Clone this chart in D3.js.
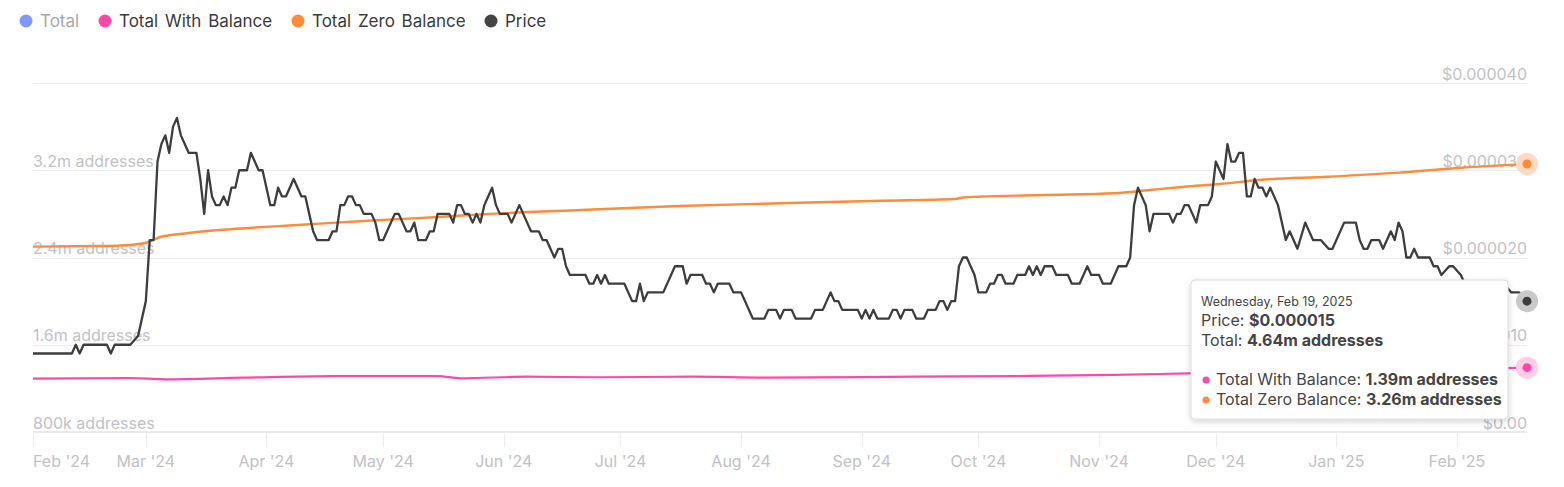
<!DOCTYPE html>
<html>
<head>
<meta charset="utf-8">
<script src="https://cdn.jsdelivr.net/npm/d3@7/dist/d3.min.js"></script>
<style>
  html, body { margin: 0; padding: 0; background: #fff; }
  svg { display: block; font-family: Inter, "Noto Sans", sans-serif; }
</style>
</head>
<body>
<svg id="chart" width="1564" height="487"></svg>
<script>
// ---------- DATA ----------
const startDate = new Date(2024, 1, 1);   // day 0
const endDate = new Date(2025, 1, 19);    // day 384

const legendNames = ["Total", "Total With Balance", "Total Zero Balance", "Price"];
const legendColors = ["#8098f9", "#ff47a8", "#ff8a3a", "#444444"];
const legendVisible = [false, true, true, true];

const addressTicks = [800000, 1600000, 2400000, 3200000, 4000000];
const addressTickLabels = ["800k addresses", "1.6m addresses", "2.4m addresses", "3.2m addresses", ""];
const priceTicks = [0, 0.00001, 0.00002, 0.00003, 0.00004];
const priceTickLabels = ["$0.00", "$0.000010", "$0.000020", "$0.000030", "$0.000040"];

// [day offset, price in micro-USD]
const pricePoints = [[0,9],[10,9],[11,10],[12,9],[13,10],[19,10],[20,9],[21,10],[25,10],[27,11],[29,15],[30,22],[31,22],[32,31],[33,33],[34,34],[35,32],[36,35],[37,36],[38,34],[39,33],[40,32],[42,32],[43,29],[44,25],[45,30],[46,27],[47,26],[48,26],[49,27],[50,26],[51,28],[52,28],[53,30],[55,30],[56,32],[57,31],[58,30],[59,30],[60,28],[61,26],[62,26],[63,28],[64,27],[65,27],[67,29],[68,28],[69,27],[70,27],[71,25],[72,23],[73,22],[76,22],[77,23],[78,23],[79,26],[80,26],[81,27],[82,27],[83,26],[84,26],[85,25],[87,25],[88,24],[89,22],[90,22],[91,23],[93,25],[94,25],[96,23],[97,23],[98,24],[99,22],[101,22],[102,23],[103,23],[104,25],[107,25],[108,24],[109,26],[110,26],[111,25],[112,25],[113,24],[114,25],[115,24],[116,26],[117,27],[118,28],[119,26],[120,25],[122,25],[123,24],[124,25],[125,26],[126,25],[128,23],[130,23],[131,22],[132,22],[134,20],[135,21],[136,21],[137,19],[138,18],[142,18],[143,17],[144,17],[145,18],[146,17],[147,18],[148,17],[152,17],[154,15],[155,15],[156,17],[157,15],[158,16],[162,16],[165,19],[167,19],[168,17],[169,18],[172,18],[173,17],[174,17],[175,16],[176,17],[179,17],[180,16],[182,16],[185,13],[188,13],[189,14],[191,14],[192,13],[193,14],[195,14],[196,13],[200,13],[201,14],[203,14],[205,16],[206,15],[207,15],[208,14],[212,14],[213,13],[214,14],[215,13],[216,14],[217,13],[220,13],[221,14],[222,14],[223,13],[224,14],[226,14],[227,13],[229,13],[230,14],[232,14],[233,15],[234,15],[235,14],[236,15],[237,15],[238,19],[239,20],[240,20],[242,18],[243,16],[245,16],[246,17],[247,17],[248,18],[249,18],[250,17],[252,17],[253,18],[255,18],[256,19],[257,18],[258,19],[259,18],[260,19],[262,19],[263,18],[266,18],[267,17],[269,17],[271,19],[272,18],[274,18],[275,17],[277,17],[279,19],[281,19],[282,20],[283,26],[284,28],[286,26],[287,23],[288,25],[292,25],[293,24],[294,25],[295,25],[296,26],[297,26],[299,24],[300,26],[302,26],[303,27],[304,31],[306,29],[307,33],[308,31],[309,31],[310,32],[311,32],[312,27],[313,27],[314,29],[315,28],[316,28],[317,27],[318,28],[320,26],[322,22],[323,23],[325,21],[327,24],[329,22],[331,22],[333,21],[334,21],[337,24],[340,24],[341,22],[342,21],[343,21],[344,22],[346,22],[347,21],[349,23],[350,22],[351,24],[352,23],[353,20],[354,20],[355,21],[356,20],[359,20],[360,19],[361,19],[362,18],[364,19],[365,19],[367,18],[368,17],[370,17],[372,16],[374,17],[376,16],[378,17],[380,16],[382,16],[384,15]];

// [day offset, millions of addresses]
const zeroBalancePoints = [[0,2.500],[17,2.505],[25,2.515],[29,2.535],[33,2.590],[39,2.620],[51,2.660],[69,2.700],[86,2.737],[103,2.769],[120,2.805],[141,2.836],[166,2.872],[192,2.897],[218,2.921],[237,2.936],[239,2.950],[243,2.957],[260,2.973],[278,2.989],[287,3.019],[296,3.049],[305,3.074],[315,3.111],[333,3.141],[351,3.178],[367,3.223],[384,3.257]];

const withBalancePoints = [[0,1.290],[25,1.295],[34,1.283],[54,1.298],[77,1.313],[104,1.313],[110,1.292],[127,1.307],[145,1.302],[169,1.307],[189,1.298],[227,1.307],[253,1.313],[278,1.323],[297,1.338],[326,1.355],[364,1.372],[384,1.390]];

const totalLast = 4.64; // millions (hidden series, shown in tooltip)

// ---------- LAYOUT ----------
const svg = d3.select("#chart");
const plotLeft = 33, plotRight = 1527, plotTop = 83, plotBottom = 432;
const dayDate = d => d3.timeDay.offset(startDate, d);

const x = d3.scaleTime().domain([startDate, endDate]).range([plotLeft, plotRight]);
const yAddr = d3.scaleLinear().domain([800000, 4000000]).range([plotBottom, plotTop]);
const yPrice = d3.scaleLinear().domain([0, 0.00004]).range([plotBottom, plotTop]);

const gridColor = "#ededed";
const labelColor = "#c1c1c6";
const axisFont = 16;

// Gridlines
svg.append("g").selectAll("line").data(addressTicks.slice(1)).join("line")
  .attr("x1", plotLeft).attr("x2", plotRight)
  .attr("y1", d => Math.round(yAddr(d)) + 0.5).attr("y2", d => Math.round(yAddr(d)) + 0.5)
  .attr("stroke", gridColor).attr("stroke-width", 1);

// x axis baseline + ticks
const months = d3.timeMonth.range(startDate, d3.timeDay.offset(endDate, 1));
svg.append("line").attr("x1", plotLeft).attr("x2", plotRight)
  .attr("y1", plotBottom).attr("y2", plotBottom).attr("stroke", "#e9e9e9").attr("stroke-width", 2);
svg.append("g").selectAll("line").data(months).join("line")
  .attr("x1", d => Math.round(x(d)) + 0.5).attr("x2", d => Math.round(x(d)) + 0.5)
  .attr("y1", plotBottom).attr("y2", plotBottom + 15)
  .attr("stroke", "#ececec").attr("stroke-width", 1);

const fmtMonth = d3.timeFormat("%b '%y");
const xl = svg.append("g").selectAll("text").data(months).join("text")
  .attr("x", d => x(d)).attr("y", 466.5)
  .attr("text-anchor", "middle")
  .attr("fill", labelColor).attr("font-size", axisFont)
  .text(d => fmtMonth(d));
xl.each(function() {
  const bb = this.getBBox();
  if (bb.x < plotLeft) d3.select(this).attr("x", +d3.select(this).attr("x") + (plotLeft - bb.x));
});

// Left axis labels
svg.append("g").selectAll("text").data(addressTicks).join("text")
  .attr("x", plotLeft).attr("y", d => yAddr(d) - 3.5)
  .attr("fill", labelColor).attr("font-size", axisFont)
  .text((d, i) => addressTickLabels[i]);

// Right axis labels
svg.append("g").selectAll("text").data(priceTicks).join("text")
  .attr("x", plotRight).attr("y", d => yPrice(d) - 3.5)
  .attr("text-anchor", "end")
  .attr("fill", labelColor).attr("font-size", axisFont)
  .text((d, i) => priceTickLabels[i]);

// Lines
const lineAddr = d3.line().x(d => x(dayDate(d[0]))).y(d => yAddr(d[1] * 1e6)).curve(d3.curveMonotoneX);
const linePrice = d3.line().x(d => x(dayDate(d[0]))).y(d => yPrice(d[1] * 1e-6));

svg.append("path").datum(withBalancePoints).attr("d", lineAddr)
  .attr("fill", "none").attr("stroke", legendColors[1]).attr("stroke-width", 2.2);
svg.append("path").datum(zeroBalancePoints).attr("d", lineAddr)
  .attr("fill", "none").attr("stroke", legendColors[2]).attr("stroke-width", 2.4);
svg.append("path").datum(pricePoints).attr("d", linePrice)
  .attr("fill", "none").attr("stroke", "#3d3d3d").attr("stroke-width", 2.3).attr("stroke-linejoin", "round");

// Hover markers at last point
const lastW = withBalancePoints[withBalancePoints.length - 1];
const lastZ = zeroBalancePoints[zeroBalancePoints.length - 1];
const lastP = pricePoints[pricePoints.length - 1];
const markers = [
  { cx: x(dayDate(lastZ[0])), cy: yAddr(lastZ[1] * 1e6), c: legendColors[2], halo: "#ffd9bf" },
  { cx: x(dayDate(lastP[0])), cy: yPrice(lastP[1] * 1e-6), c: "#3d3d3d", halo: "#c9c9c9" },
  { cx: x(dayDate(lastW[0])), cy: yAddr(lastW[1] * 1e6), c: legendColors[1], halo: "#ffcde6" }
];
markers.forEach(m => {
  svg.append("circle").attr("cx", m.cx).attr("cy", m.cy).attr("r", 11).attr("fill", m.halo);
  svg.append("circle").attr("cx", m.cx).attr("cy", m.cy).attr("r", 4.5).attr("fill", m.c);
});

// Legend
const legendX = [26, 105, 298, 491];
const lg = svg.append("g");
legendNames.forEach((n, i) => {
  lg.append("circle").attr("cx", legendX[i]).attr("cy", 21).attr("r", 6.5)
    .attr("fill", legendColors[i]);
  lg.append("text").attr("x", legendX[i] + 14).attr("y", 27)
    .attr("font-size", 17).attr("word-spacing", 2)
    .attr("fill", legendVisible[i] ? "#3a3a3a" : "#a8a8a8")
    .text(n);
});

// Tooltip
const defs = svg.append("defs");
const f = defs.append("filter").attr("id", "sh").attr("x", "-10%").attr("y", "-10%").attr("width", "120%").attr("height", "130%");
f.append("feDropShadow").attr("dx", 0).attr("dy", 2).attr("stdDeviation", 3).attr("flood-color", "#000").attr("flood-opacity", 0.18);

const tt = svg.append("g").attr("transform", "translate(1191,280)");
tt.append("rect").attr("width", 317).attr("height", 139).attr("rx", 4)
  .attr("fill", "#fff").attr("stroke", "#dcdcdc").attr("filter", "url(#sh)");
const fmtDay = d3.timeFormat("%A, %b %-d, %Y");
tt.append("text").attr("x", 10).attr("y", 25.5).attr("font-size", 12.5).attr("fill", "#444")
  .text(fmtDay(dayDate(lastP[0])));
const t1 = tt.append("text").attr("x", 10).attr("y", 46).attr("font-size", 16).attr("fill", "#444");
t1.append("tspan").text("Price: ");
t1.append("tspan").attr("font-weight", "bold").text("$" + (lastP[1] * 1e-6).toFixed(6));
const t2 = tt.append("text").attr("x", 10).attr("y", 66).attr("font-size", 16).attr("fill", "#444");
t2.append("tspan").text("Total: ");
t2.append("tspan").attr("font-weight", "bold").text(totalLast.toFixed(2) + "m addresses");

[[legendNames[1], lastW[1], legendColors[1], 105], [legendNames[2], lastZ[1], legendColors[2], 125]].forEach(r => {
  tt.append("circle").attr("cx", 15).attr("cy", r[3] - 5).attr("r", 3.5).attr("fill", r[2]);
  const t = tt.append("text").attr("x", 25).attr("y", r[3]).attr("font-size", 16).attr("fill", "#444");
  t.append("tspan").text(r[0] + ": ");
  t.append("tspan").attr("font-weight", "bold").text(r[1].toFixed(2) + "m addresses");
});
</script>
</body>
</html>
